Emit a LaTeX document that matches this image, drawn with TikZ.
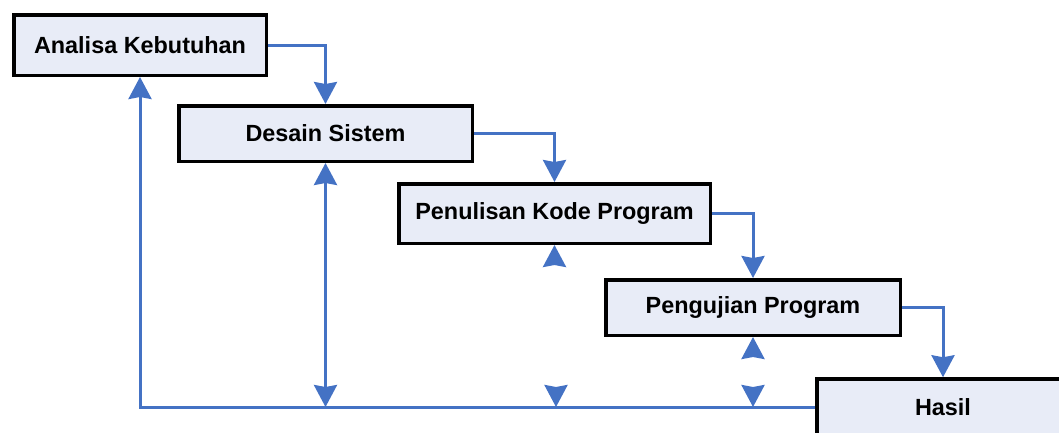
\documentclass[tikz,border=0pt]{standalone}
\usepackage{fontspec}
\setmainfont{Liberation Sans}
\usetikzlibrary{arrows.meta}
\definecolor{flowblue}{HTML}{4472C4}
\definecolor{boxfill}{HTML}{E8ECF7}
\tikzset{
  tip/.tip={Stealth[length=22pt,width=23pt,inset=2pt]},
  stage/.style={draw=black, line width=3.5pt, fill=boxfill, inner sep=0pt,
    font=\fontsize{23.4}{26}\selectfont\bfseries},
  flow/.style={draw=flowblue, line width=3pt, -tip},
  both/.style={draw=flowblue, line width=3pt, tip-tip}
}
\begin{document}
\begin{tikzpicture}[x=1pt,y=-1pt]
\useasboundingbox (0,0) rectangle (1059,432);
\begin{scope}
\clip (0,0) rectangle (1059,432);

% stages of the waterfall
\node[stage, minimum width=252.5pt, minimum height=60.5pt] (b1) at (140,45) {Analisa Kebutuhan};
\node[stage, minimum width=293.5pt, minimum height=55.5pt] (b2) at (325.5,133.5) {Desain Sistem};
\node[stage, minimum width=311.5pt, minimum height=59.5pt] (b3) at (554.5,213.5) {Penulisan Kode Program};
\node[stage, minimum width=294.5pt, minimum height=55.5pt] (b4) at (753,307.5) {Pengujian Program};
\node[stage, minimum width=252pt, minimum height=56pt] (b5) at (943,407) {Hasil};

% forward steps
\draw[flow] (b1.east) -| (b2.north);
\draw[flow] (b2.east) -| (b3.north);
\draw[flow] (b3.east) -| (b4.north);
\draw[flow] (b4.east) -| (b5.north);

% feedback rail along the bottom
\draw[flow] (b5.west) -| (b1.south);
\coordinate (r2) at (b2.south |- b5.west);
\draw[both] (b2.south) -- (r2);

% loose arrowheads below stages 3 and 4 and on the rail
\coordinate (u3) at ([yshift=-20pt]b3.south);
\draw[flow] (u3) -- (b3.south);
\coordinate (d3a) at (556,387);
\coordinate (d3b) at (556,407);
\draw[flow] (d3a) -- (d3b);
\coordinate (u4) at ([yshift=-20pt]b4.south);
\draw[flow] (u4) -- (b4.south);
\coordinate (d4a) at (753,387);
\coordinate (d4b) at (753,407);
\draw[flow] (d4a) -- (d4b);
\end{scope}
\end{tikzpicture}
\end{document}
